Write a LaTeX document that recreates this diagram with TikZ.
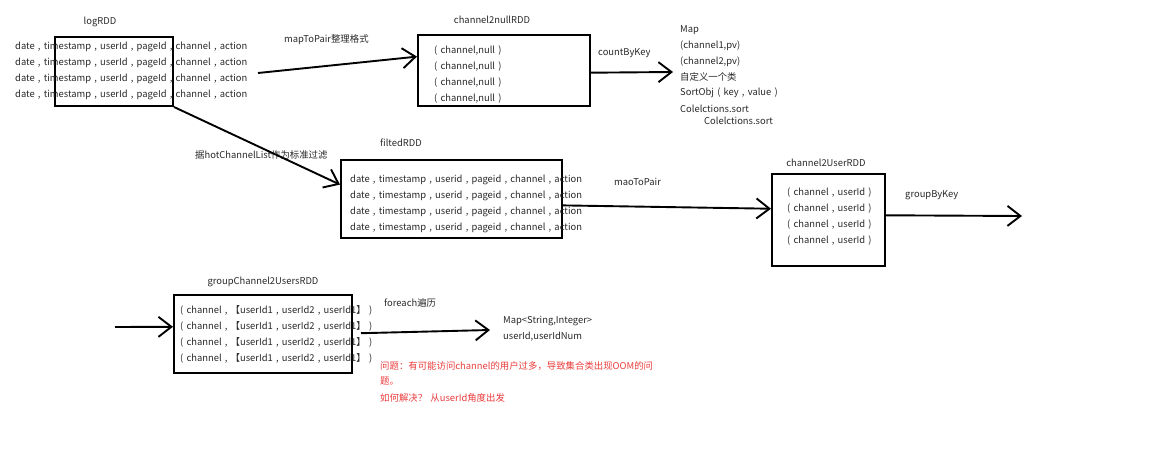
\documentclass[tikz,border=0pt]{standalone}
\usepackage{fontspec}
\setmainfont{Noto Sans CJK SC}
\usetikzlibrary{arrows.meta,calc}
\definecolor{txt}{RGB}{40,40,40}
\definecolor{warn}{RGB}{235,60,60}
\newcommand{\dfont}{\fontsize{9.4}{11}\selectfont\spaceskip=3.2pt\relax}
\tikzset{
  rdd/.style={draw=black,line width=2pt,inner sep=0pt,fill=none},
  lbl/.style={font=\dfont,text=txt,inner sep=0pt,anchor=west},
  ttl/.style={font=\dfont,text=txt,inner sep=0pt},
  red/.style={font=\dfont,text=warn,inner sep=0pt,anchor=west},
  arr/.style={line width=1.9pt,-{Straight Barb[length=13pt,width=20pt,line width=1.9pt]}}
}
\begin{document}
\begin{tikzpicture}[x=1pt,y=-1pt]
\useasboundingbox (0,0) rectangle (1175,460);
% boxes
\node[rdd,minimum width=118,minimum height=69] (log) at (114,71.5) {};
\node[rdd,minimum width=172,minimum height=71] (c2n) at (504,70.5) {};
\node[rdd,minimum width=221,minimum height=78] (filt) at (451.5,199) {};
\node[rdd,minimum width=113,minimum height=92] (c2u) at (828.5,220) {};
\node[rdd,minimum width=178,minimum height=78] (gc2u) at (263,334) {};
% titles
\node[ttl] (tlog) at (100,22) {logRDD};
\node[ttl] (tc2n) at (492,20) {channel2nullRDD};
\node[ttl] (tfilt) at (401,143) {filtedRDD};
\node[ttl] (tc2u) at (826,163) {channel2UserRDD};
\node[ttl] (tgc2u) at (263,282) {groupChannel2UsersRDD};
% contents
\foreach \y [count=\i] in {47,63,79,95}
  \node[lbl] (logl\i) at (15,\y) {date , timestamp , userId , pageId , channel , action};
\foreach \y [count=\i] in {51,67,83,99}
  \node[lbl] (c2nl\i) at (434,\y) {( channel,null )};
\foreach \y [count=\i] in {180,196,212,228}
  \node[lbl] (filtl\i) at (350,\y) {date , timestamp , userid , pageid , channel , action};
\foreach \y [count=\i] in {193,209,225,241}
  \node[lbl] (c2ul\i) at (787,\y) {( channel , userId )};
\foreach \y [count=\i] in {310,326,342,358}
  \node[lbl] (gc2ul\i) at (180,\y) {( channel , 【userId1 , userId2 , userId1】 )};
% map text
\node[lbl] (m1) at (680,30) {Map};
\node[lbl] (m2) at (680,46) {(channel1,pv)};
\node[lbl] (m3) at (680,62) {(channel2,pv)};
\node[lbl] (m4) at (680,77) {自定义一个类};
\node[lbl] (m5) at (680,93) {SortObj ( key , value )};
\node[lbl] (m6) at (680,109) {Colelctions.sort};
\node[lbl] (m7) at (704,121) {Colelctions.sort};
\node[lbl] (r1) at (503,321) {Map<String,Integer>};
\node[lbl] (r2) at (503,337) {userId,userIdNum};
% red note
\node[red] (n1) at (380,366) {问题：有可能访问channel的用户过多，导致集合类出现OOM的问};
\node[red] (n2) at (380,381) {题。};
\node[red] (n3) at (380,398) {如何解决？ 从userId角度出发};
% edge labels
\node[lbl] (e1) at (284,40) {mapToPair整理格式};
\node[lbl] (e2) at (598,53) {countByKey};
\node[lbl] (e3) at (195,155) {据hotChannelList作为标准过滤};
\node[lbl] (e4) at (614,182) {maoToPair};
\node[lbl] (e5) at (905,195) {groupByKey};
\node[lbl] (e6) at (384,303) {foreach遍历};
% free ends
\coordinate (s1) at (258,73);
\coordinate (t2) at (673,72);
\coordinate (t5) at (1022,216);
\coordinate (s6) at (115,327);
\coordinate (t7) at (490,330);
% connectors
\draw[arr] (s1) -- ($(c2n.north west)!0.31!(c2n.south west)$);
\draw[arr] ($(c2n.north east)!0.53!(c2n.south east)$) -- (t2);
\draw[arr] (log.south east) -- ($(filt.north west)!0.32!(filt.south west)$);
\draw[arr] ($(filt.north east)!0.58!(filt.south east)$) -- ($(c2u.north west)!0.38!(c2u.south west)$);
\draw[arr] ($(c2u.north east)!0.45!(c2u.south east)$) -- (t5);
\draw[arr] (s6) -- ($(gc2u.north west)!0.41!(gc2u.south west)$);
\draw[arr] ($(gc2u.north east)!0.49!(gc2u.south east)+(8,0)$) -- (t7);
\end{tikzpicture}
\end{document}
